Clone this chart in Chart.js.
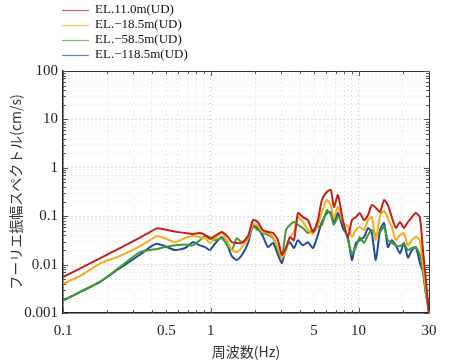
<!DOCTYPE html>
<html>
<head>
<meta charset="utf-8">
<script src="https://cdn.jsdelivr.net/npm/chart.js@4/dist/chart.umd.min.js"></script>
<style>
  html, body { margin: 0; padding: 0; background: #fff; }
  #wrap { width: 452px; height: 362px; position: relative; }
</style>
</head>
<body>
<div id="wrap"><canvas id="chart"></canvas></div>
<script>
// Fourier amplitude spectra (cm/s) vs frequency (Hz)
const freqHz = [0.1, 0.13, 0.178, 0.243, 0.332, 0.388, 0.432, 0.49, 0.572, 0.669,
  0.758, 0.845, 0.914, 0.988, 1.067, 1.19, 1.31, 1.39, 1.5, 1.63,
  1.79, 1.93, 2.08, 2.25, 2.44, 2.64, 2.85, 3.03, 3.23, 3.43,
  3.66, 3.89, 4.2, 4.55, 4.92, 5.31, 5.65, 6.11, 6.5, 6.82,
  7.26, 7.84, 8.48, 9.02, 9.6, 10.2, 10.9, 11.6, 12.3, 13.1,
  14.0, 14.9, 15.8, 16.8, 17.9, 19.1, 20.3, 21.6, 23.0, 24.4,
  26.0, 27.3, 28.6, 30];

const el110 = [0.0055, 0.0083, 0.0135, 0.022, 0.036, 0.047, 0.056, 0.053, 0.048, 0.045,
  0.043, 0.045, 0.041, 0.034, 0.039, 0.047, 0.037, 0.029, 0.028, 0.028,
  0.039, 0.083, 0.076, 0.052, 0.047, 0.045, 0.032, 0.016, 0.022, 0.037,
  0.032, 0.116, 0.096, 0.083, 0.047, 0.083, 0.216, 0.316, 0.35, 0.155,
  0.274, 0.083, 0.037, 0.083, 0.096, 0.116, 0.083, 0.106, 0.17, 0.15,
  0.122, 0.216, 0.17, 0.096, 0.057, 0.076, 0.057, 0.076, 0.096, 0.116,
  0.096, 0.02, 0.0048, 0.0009];

const elM185 = [0.004, 0.0058, 0.0105, 0.0151, 0.024, 0.032, 0.039, 0.035, 0.029, 0.035,
  0.039, 0.037, 0.035, 0.028, 0.035, 0.045, 0.028, 0.02, 0.018, 0.023,
  0.035, 0.069, 0.063, 0.047, 0.045, 0.037, 0.022, 0.0137, 0.02, 0.037,
  0.047, 0.096, 0.076, 0.052, 0.043, 0.066, 0.122, 0.216, 0.17, 0.09,
  0.155, 0.076, 0.06, 0.037, 0.052, 0.06, 0.052, 0.083, 0.096, 0.032,
  0.106, 0.128, 0.09, 0.06, 0.032, 0.041, 0.045, 0.025, 0.032, 0.037,
  0.032, 0.0102, 0.003, 0.00115];

const elM585 = [0.0018, 0.0027, 0.0044, 0.0089, 0.018, 0.02, 0.021, 0.023, 0.025, 0.026,
  0.025, 0.032, 0.039, 0.037, 0.032, 0.035, 0.024, 0.02, 0.035, 0.029,
  0.039, 0.06, 0.052, 0.045, 0.041, 0.035, 0.02, 0.0137, 0.052, 0.066,
  0.076, 0.066, 0.057, 0.045, 0.052, 0.06, 0.066, 0.134, 0.106, 0.066,
  0.096, 0.076, 0.032, 0.017, 0.023, 0.037, 0.028, 0.041, 0.052, 0.041,
  0.047, 0.06, 0.032, 0.028, 0.025, 0.024, 0.027, 0.02, 0.022, 0.023,
  0.016, 0.0077, 0.0025, 0.0015];

const elM1185 = [0.0018, 0.0027, 0.0044, 0.0085, 0.016, 0.023, 0.027, 0.024, 0.02, 0.022,
  0.029, 0.025, 0.023, 0.02, 0.027, 0.037, 0.023, 0.015, 0.0124, 0.016,
  0.028, 0.066, 0.057, 0.039, 0.023, 0.028, 0.016, 0.0108, 0.022, 0.029,
  0.022, 0.032, 0.025, 0.029, 0.022, 0.041, 0.076, 0.116, 0.122, 0.072,
  0.116, 0.057, 0.037, 0.0124, 0.028, 0.032, 0.037, 0.057, 0.045, 0.0124,
  0.052, 0.072, 0.023, 0.032, 0.025, 0.017, 0.028, 0.014, 0.02, 0.023,
  0.011, 0.0071, 0.0025, 0.001];

const seriesLabels = ['EL.11.0m(UD)', 'EL.\u221218.5m(UD)', 'EL.\u221258.5m(UD)', 'EL.\u2212118.5m(UD)'];
const seriesColors = ['#c51f1c', '#f2ac1c', '#3e9c2c', '#1f4c9c'];

const xTickLabels = [0.1, 0.5, 1, 5, 10, 30];
const yTickLabels = [0.001, 0.01, 0.1, 1, 10, 100];

// every 1..9 multiple inside a decade range, used for the grid
function logSteps(min, max) {
  const out = [];
  for (let d = Math.floor(Math.log10(min)); d <= Math.ceil(Math.log10(max)); d++) {
    for (let m = 1; m <= 9; m++) {
      const v = +(m * Math.pow(10, d)).toPrecision(6);
      if (v >= min - 1e-12 && v <= max + 1e-12) out.push(v);
    }
  }
  return out;
}

function isIn(list, v) {
  return list.some(t => Math.abs(t - v) / t < 1e-6);
}

function isDecade(v) {
  const lg = Math.log10(v);
  return Math.abs(lg - Math.round(lg)) < 1e-6;
}

const serif = '"Liberation Serif", "DejaVu Serif", serif';
const cjk = '"Noto Sans CJK JP", "Noto Sans", sans-serif';

const allSeries = [el110, elM185, elM585, elM1185];

// legend, axis titles, frame and inward tick marks are drawn by hand
const decorPlugin = {
  id: 'decor',
  afterDraw(chart) {
    const ctx = chart.ctx;
    const area = chart.chartArea;
    const xs = chart.scales.x;
    const ys = chart.scales.y;
    ctx.save();

    // frame (top and right)
    ctx.strokeStyle = '#333';
    ctx.lineWidth = 1;
    ctx.beginPath();
    ctx.moveTo(area.left, area.top + 0.5);
    ctx.lineTo(area.right + 0.5, area.top + 0.5);
    ctx.lineTo(area.right + 0.5, area.bottom);
    ctx.stroke();

    // inward tick marks on all four sides
    ctx.strokeStyle = '#555';
    xs.ticks.forEach(t => {
      const px = Math.round(xs.getPixelForValue(t.value)) + 0.5;
      const len = isDecade(t.value) ? 5 : 3;
      ctx.beginPath();
      ctx.moveTo(px, area.bottom); ctx.lineTo(px, area.bottom - len);
      ctx.moveTo(px, area.top); ctx.lineTo(px, area.top + len);
      ctx.stroke();
    });
    ys.ticks.forEach(t => {
      const py = Math.round(ys.getPixelForValue(t.value)) + 0.5;
      const len = isDecade(t.value) ? 5 : 3;
      ctx.beginPath();
      ctx.moveTo(area.left, py); ctx.lineTo(area.left + len, py);
      ctx.moveTo(area.right, py); ctx.lineTo(area.right - len, py);
      ctx.stroke();
    });

    // legend
    const rows = [10, 25, 39.5, 54.5];
    ctx.font = '13px ' + serif;
    ctx.textBaseline = 'middle';
    ctx.textAlign = 'left';
    seriesLabels.forEach((lab, i) => {
      ctx.strokeStyle = seriesColors[i];
      ctx.globalAlpha = 0.7;
      ctx.lineWidth = 1.2;
      ctx.beginPath();
      ctx.moveTo(62, Math.round(rows[i]) + 0.5);
      ctx.lineTo(89, Math.round(rows[i]) + 0.5);
      ctx.stroke();
      ctx.globalAlpha = 1;
      ctx.fillStyle = '#111';
      ctx.fillText(lab, 95, rows[i]);
    });

    // y title (vertical)
    ctx.save();
    ctx.translate(16, (area.top + area.bottom) / 2);
    ctx.rotate(-Math.PI / 2);
    ctx.textAlign = 'center';
    ctx.textBaseline = 'middle';
    ctx.fillStyle = '#333';
    ctx.font = '14px ' + cjk;
    ctx.fillText('フーリエ振幅スペクトル(cm/s)', 0, 0);
    ctx.restore();

    // x title
    ctx.textAlign = 'center';
    ctx.textBaseline = 'middle';
    ctx.fillStyle = '#333';
    ctx.font = '14px ' + cjk;
    ctx.fillText('周波数(Hz)', (area.left + area.right) / 2, 352);

    ctx.restore();
  }
};

const gridColor = (ctx) => {
  const v = ctx.tick && ctx.tick.value;
  if (v === undefined) return '#ddd';
  return isDecade(v) ? '#bdbdbd' : '#dcdcdc';
};

new Chart(document.getElementById('chart'), {
  type: 'line',
  data: {
    datasets: allSeries.map((vals, i) => ({
      label: seriesLabels[i],
      data: freqHz.map((f, j) => ({ x: f, y: vals[j] })),
      borderColor: seriesColors[i],
      borderWidth: 2,
      pointRadius: 0,
      tension: 0.2,
      fill: false
    }))
  },
  options: {
    responsive: true,
    maintainAspectRatio: false,
    animation: false,
    layout: { padding: { top: 71, right: 23, left: 0, bottom: 0 } },
    plugins: {
      legend: { display: false },
      tooltip: { enabled: false }
    },
    scales: {
      x: {
        type: 'logarithmic',
        min: 0.1,
        max: 30,
        afterBuildTicks: (scale) => {
          scale.ticks = logSteps(0.1, 30).map(v => ({ value: v }));
        },
        afterFit: (scale) => { scale.height = 49; },
        grid: {
          color: gridColor,
          lineWidth: 1,
          drawTicks: false
        },
        border: { display: true, color: '#222', width: 1.5, dash: [1, 3] },
        ticks: {
          autoSkip: false,
          maxRotation: 0,
          padding: 9,
          color: '#222',
          font: { family: serif, size: 15 },
          callback: (v) => isIn(xTickLabels, v) ? String(+v.toPrecision(6)) : ''
        }
      },
      y: {
        type: 'logarithmic',
        min: 0.001,
        max: 100,
        afterBuildTicks: (scale) => {
          scale.ticks = logSteps(0.001, 100).map(v => ({ value: v }));
        },
        afterFit: (scale) => { scale.width = 63; },
        grid: {
          color: gridColor,
          lineWidth: 1,
          drawTicks: false
        },
        border: { display: true, color: '#222', width: 1.5, dash: [1, 3] },
        ticks: {
          autoSkip: false,
          padding: 5,
          color: '#222',
          font: { family: serif, size: 15 },
          callback: (v) => isIn(yTickLabels, v) ? String(+v.toPrecision(6)) : ''
        }
      }
    }
  },
  plugins: [decorPlugin]
});
</script>
</body>
</html>
